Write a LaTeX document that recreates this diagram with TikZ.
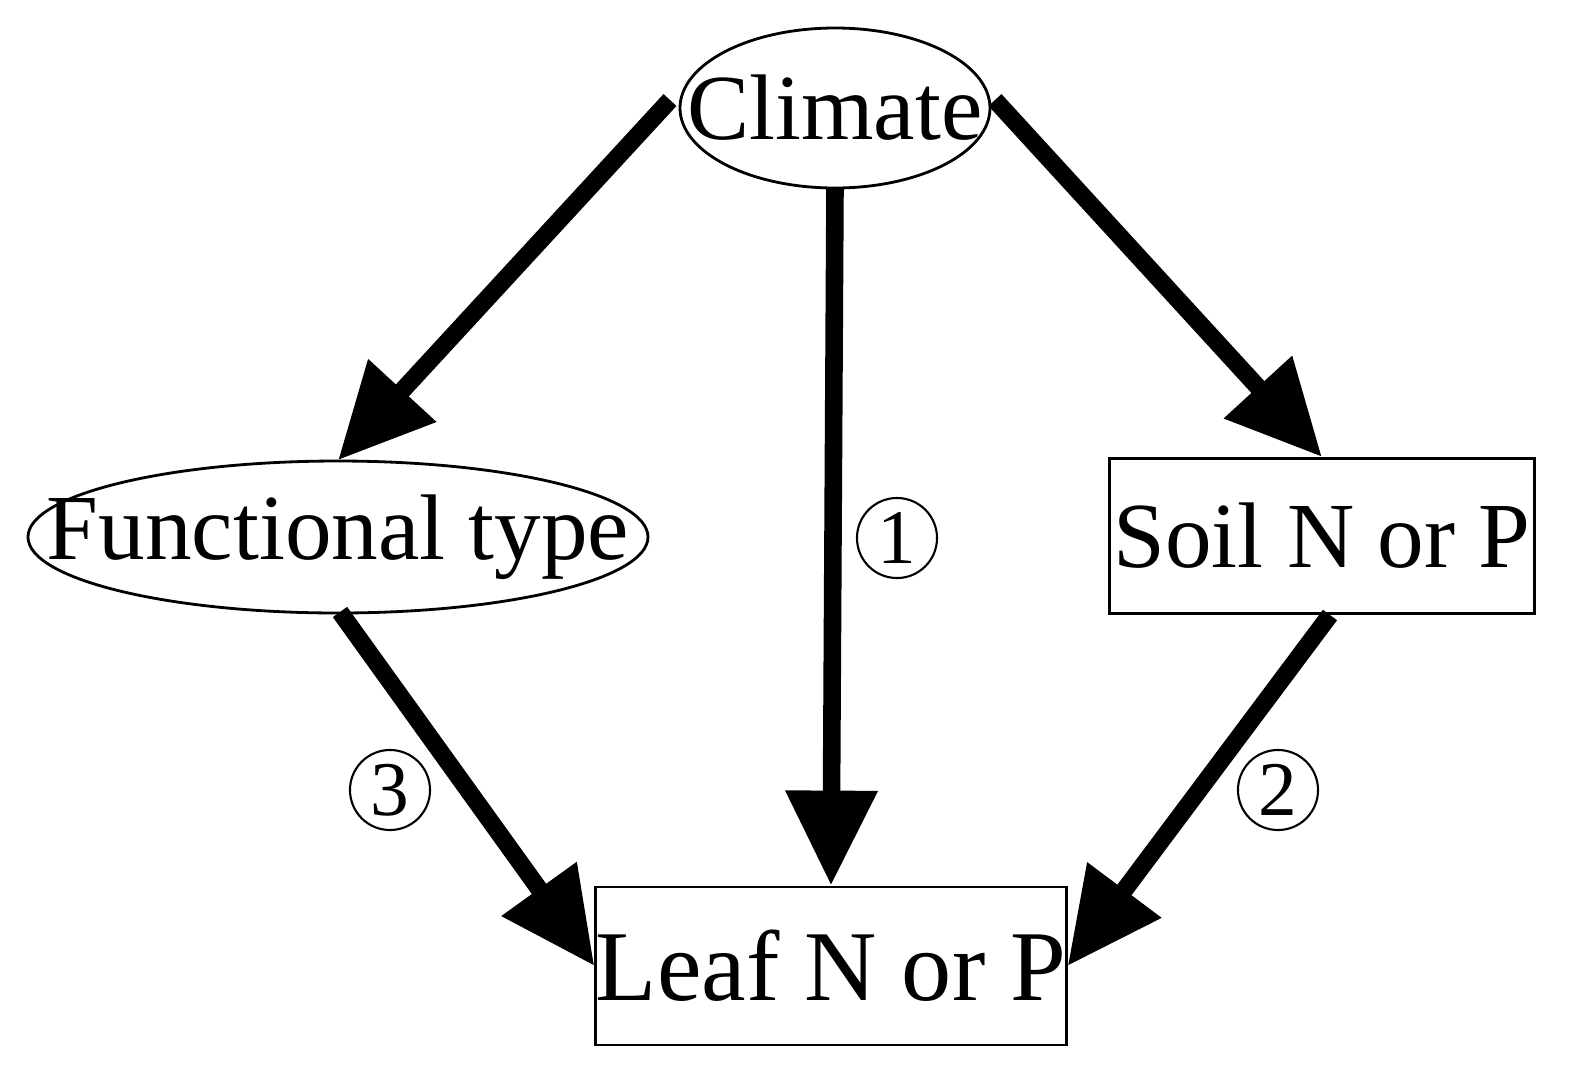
\documentclass[tikz,border=0pt]{standalone}
\usepackage{fontspec}
\setmainfont{Liberation Serif}
\usetikzlibrary{shapes.geometric,arrows.meta}
\begin{document}
\begin{tikzpicture}[x=0.01cm,y=-0.01cm,
  lbl/.style={font=\fontsize{26.5}{30}\selectfont,inner sep=0pt},
  arr/.style={line width=5pt,-{Triangle[length=27pt,width=25pt]}},
  num/.style={circle,draw,line width=0.6pt,minimum size=0.8cm,inner sep=0pt,font=\fontsize{22}{24}\selectfont}]
\useasboundingbox (0,0) rectangle (1584,1087);
\node[lbl,minimum width=3.1cm,minimum height=1.6cm] (cl) at (835,108) {Climate};
\draw[line width=0.8pt] (cl.center) ellipse (155 and 80);
\node[lbl,minimum width=6.2cm,minimum height=1.52cm] (ft) at (338,537) {Functional type};
\draw[line width=0.8pt] (ft.center) ellipse (310 and 76);
\node[draw,line width=0.8pt,minimum width=4.25cm,minimum height=1.55cm,lbl] (so) at (1322,536) {Soil N or P};
\node[draw,line width=0.8pt,minimum width=4.63cm,minimum height=1.58cm,inner sep=0pt,font=\fontsize{28.5}{32}\selectfont] (le) at (831,966) {Leaf N or P};
\coordinate (a1) at (670,100); \coordinate (a2) at (995,100);
\coordinate (f2) at (340,612); \coordinate (s2) at (1330,615);
\draw[arr] (a1) -- (ft.north);
\draw[arr] (a2) -- (so.north);
\draw[arr] (cl.south) -- (le.north);
\draw[arr] (f2) -- (le.west);
\draw[arr] (s2) -- (le.east);
\node[num] (n1) at (897,538) {1};
\node[num] (n2) at (1278,790) {2};
\node[num] (n3) at (390,790) {3};
\end{tikzpicture}
\end{document}
